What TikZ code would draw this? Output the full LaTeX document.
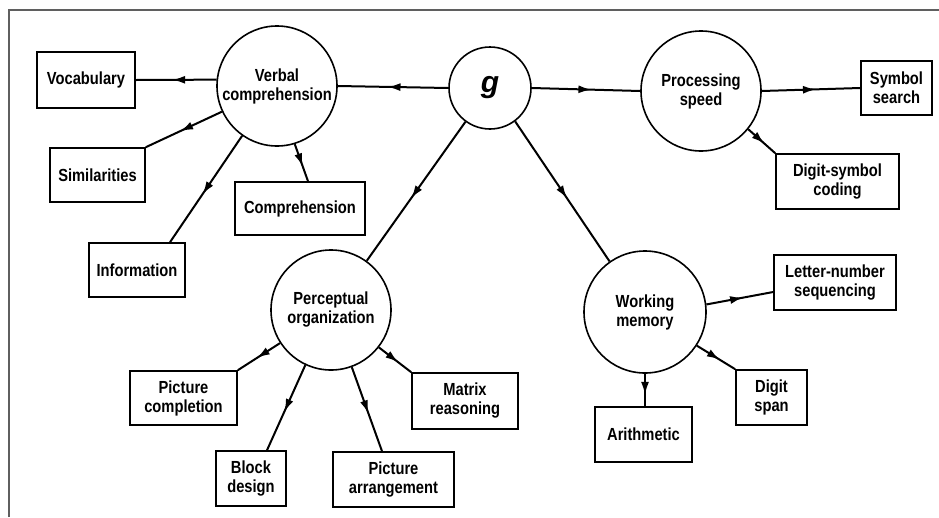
\documentclass[tikz,border=0pt]{standalone}
\usepackage{fontspec}
\setmainfont{Liberation Sans}[FakeStretch=0.84,UprightFont=* Bold,ItalicFont=* Bold Italic]
\newfontfamily\gfont{Liberation Sans}[UprightFont=* Bold,ItalicFont=* Bold Italic]
\usetikzlibrary{arrows.meta,decorations.markings}
\definecolor{framegray}{RGB}{95,95,95}
\begin{document}
\begin{tikzpicture}[x=1pt,y=-1pt,
  lbl/.style={font=\fontsize{17.5}{19}\selectfont, align=center},
  box/.style={lbl, draw, line width=1.6pt, inner sep=0pt},
  circ/.style={lbl, draw, circle, line width=1.6pt, inner sep=0pt, minimum size=120pt},
  conn/.style={line width=2pt, postaction={decorate},
    decoration={markings, mark=at position #1 with {\arrow{Latex[length=13pt,width=8pt]}}}},
  conn/.default=0.55]
\useasboundingbox (0,0) rectangle (939,517);
\fill[white] (0,0) rectangle (939,517);
% frame
\draw[framegray, line width=2pt] (9,517) -- (9,10) -- (939,10);

% circles
\node[circ] (vc) at (277,86) {Verbal\\comprehension};
\node[circ, minimum size=82pt] (g) at (490,88) {\gfont\itshape\fontsize{30}{30}\selectfont g};
\node[circ] (ps) at (701,91) {Processing\\speed};
\node[circ] (po) at (331,310) {Perceptual\\organization};
\node[circ, minimum size=122pt] (wm) at (645,312) {Working\\memory};

% boxes
\node[box, minimum width=98pt, minimum height=56pt] (voc) at (86,80) {Vocabulary};
\node[box, minimum width=95pt, minimum height=54pt] (sim) at (97.5,175) {Similarities};
\node[box, minimum width=130pt, minimum height=53pt] (comp) at (300,208.5) {Comprehension};
\node[box, minimum width=96pt, minimum height=54pt] (info) at (137,270) {Information};
\node[box, minimum width=71pt, minimum height=54pt] (ss) at (896.5,88) {Symbol\\search};
\node[box, minimum width=123pt, minimum height=55pt] (dsc) at (837.5,181.5) {Digit-symbol\\coding};
\node[box, minimum width=122pt, minimum height=55pt] (lns) at (835,282.5) {Letter-number\\sequencing};
\node[box, minimum width=71pt, minimum height=55pt] (ds) at (771.5,397.5) {Digit\\span};
\node[box, minimum width=97pt, minimum height=55pt] (ar) at (643.5,434.5) {Arithmetic};
\node[box, minimum width=106pt, minimum height=56pt] (mr) at (465,401) {Matrix\\reasoning};
\node[box, minimum width=107pt, minimum height=54pt] (pc) at (183.5,398) {Picture\\completion};
\node[box, minimum width=70pt, minimum height=55pt] (bd) at (251,478.5) {Block\\design};
\node[box, minimum width=121pt, minimum height=55pt] (pa) at (393.5,479.5) {Picture\\arrangement};

% connectors from g
\draw[conn] (g.west) -- (vc.east);
\draw[conn] (g.east) -- (ps.west);
\draw[conn] (g.234) -- (po.54);
\draw[conn] (g.307) -- (wm.125);

% verbal comprehension
\draw[conn] (vc.174) -- (voc.east);
\draw[conn] (vc.205) -- (sim.north east);
\draw[conn] (vc.235) -- ([xshift=33pt]info.north);
\draw[conn=0.6] (vc.287) -- ([xshift=8pt]comp.north);

% processing speed
\draw[conn] (ps.east) -- (ss.west);
\draw[conn=0.6] (ps.321) -- (dsc.north west);

% working memory
\draw[conn] (wm.7) -- ([yshift=-9.5pt]lns.west);
\draw[conn=0.6] (wm.327) -- (ds.north west);
\draw[conn=0.65] (wm.south) -- (wm.south |- ar.north);

% perceptual organization
\draw[conn] (po.213) -- (pc.north east);
\draw[conn] (po.245) -- ([xshift=16pt]bd.north);
\draw[conn] (po.290) -- ([xshift=-11.5pt]pa.north);
\draw[conn=0.6] (po.322) -- (mr.north west);
\end{tikzpicture}
\end{document}
